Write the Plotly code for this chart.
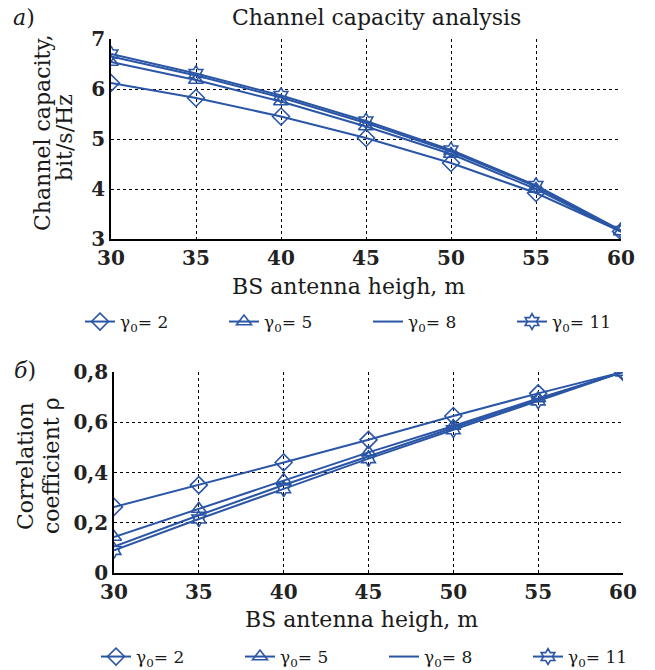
import plotly.graph_objects as go

heights = [30, 35, 40, 45, 50, 55, 60]
gammas = ["γ<sub>0</sub>= 2", "γ<sub>0</sub>= 5", "γ<sub>0</sub>= 8", "γ<sub>0</sub>= 11"]

cap_g2 = [6.12, 5.82, 5.45, 5.02, 4.52, 3.92, 3.15]
cap_g5 = [6.54, 6.18, 5.75, 5.25, 4.70, 4.00, 3.15]
cap_g8 = [6.65, 6.27, 5.83, 5.32, 4.75, 4.05, 3.15]
cap_g11 = [6.70, 6.31, 5.87, 5.36, 4.78, 4.07, 3.17]

rho_g2 = [0.263, 0.350, 0.440, 0.530, 0.625, 0.715, 0.800]
rho_g5 = [0.143, 0.255, 0.370, 0.480, 0.585, 0.695, 0.800]
rho_g8 = [0.105, 0.230, 0.350, 0.465, 0.578, 0.690, 0.800]
rho_g11 = [0.090, 0.215, 0.335, 0.455, 0.570, 0.685, 0.800]

color = "#2b56a6"
font = "DejaVu Serif"
txt = "#1a1a1a"
symbols = ["diamond-open", "triangle-up-open", None, "hexagram-open"]
msizes = [13, 13, 0, 12]

fig = go.Figure()

def add_series(ys_list, xa, ya, legend):
    for name, ys, sym, ms in zip(gammas, ys_list, symbols, msizes):
        marker = dict(color=color, size=ms, line=dict(color=color, width=1.6))
        if sym:
            marker["symbol"] = sym
            mode = "lines+markers"
        else:
            mode = "lines"
        fig.add_trace(go.Scatter(
            x=heights, y=ys, name=name, mode=mode, xaxis=xa, yaxis=ya,
            line=dict(color=color, width=2), marker=marker, legend=legend))

add_series([cap_g2, cap_g5, cap_g8, cap_g11], "x", "y", "legend")
add_series([rho_g2, rho_g5, rho_g8, rho_g11], "x2", "y2", "legend2")

W, H = 655, 670
axis_common = dict(
    showgrid=True, gridcolor="black", griddash="dot", gridwidth=1,
    showline=True, linecolor="black", linewidth=1.5, mirror=False,
    zeroline=False, ticks="",
    tickfont=dict(family=font, size=20, color="#222", weight="bold"),
)

legend_common = dict(orientation="h", xanchor="left", yanchor="middle",
                     font=dict(family=font, size=17, color=txt),
                     entrywidth=99, entrywidthmode="pixels",
                     bgcolor="rgba(0,0,0,0)", borderwidth=0)

fig.update_layout(
    width=W, height=H,
    margin=dict(l=0, r=0, t=0, b=0, autoexpand=False),
    paper_bgcolor="white", plot_bgcolor="white",
    font=dict(family=font, color=txt),
    xaxis=dict(domain=[111 / W, 621 / W], anchor="y", range=[30, 60],
               tickvals=heights, **axis_common),
    yaxis=dict(domain=[1 - 239 / H, 1 - 39 / H], anchor="x", range=[3, 7],
               tickvals=[3, 4, 5, 6, 7], **axis_common),
    xaxis2=dict(domain=[114 / W, 623 / W], anchor="y2", range=[30, 60],
                tickvals=heights, **axis_common),
    yaxis2=dict(domain=[1 - 573 / H, 1 - 372 / H], anchor="x2", range=[0, 0.8],
                tickvals=[0, 0.2, 0.4, 0.6, 0.8],
                ticktext=["0", "0,2", "0,4", "0,6", "0,8"], **axis_common),
    legend=dict(x=80 / W, y=1 - 322 / H, **legend_common),
    legend2=dict(x=96 / W, y=1 - 657 / H, **legend_common),
    showlegend=True,
)

ann = [
    dict(text="<i>а</i>)", x=24, y=18, size=22, angle=0),
    dict(text="<i>б</i>)", x=25, y=370, size=22, angle=0),
    dict(text="Channel capacity analysis", x=376, y=18, size=22, angle=0),
    dict(text="BS antenna heigh, m", x=348, y=287, size=22, angle=0),
    dict(text="BS antenna heigh, m", x=361, y=619, size=22, angle=0),
    dict(text="Channel capacity,", x=42, y=133, size=22, angle=-90),
    dict(text="bit/s/Hz", x=64, y=138, size=22, angle=-90),
    dict(text="Correlation", x=25, y=466, size=22, angle=-90),
    dict(text="coefficient ρ", x=51, y=466, size=22, angle=-90),
]
for a in ann:
    fig.add_annotation(text=a["text"], x=a["x"] / W, y=1 - a["y"] / H,
                       xref="paper", yref="paper",
                       showarrow=False, textangle=a["angle"], xanchor="center", yanchor="middle",
                       font=dict(family=font, size=a["size"], color=txt))

fig.write_html("out.html", config={"displayModeBar": False},
               post_script="document.body.style.margin='0';document.body.style.overflow='hidden';")
